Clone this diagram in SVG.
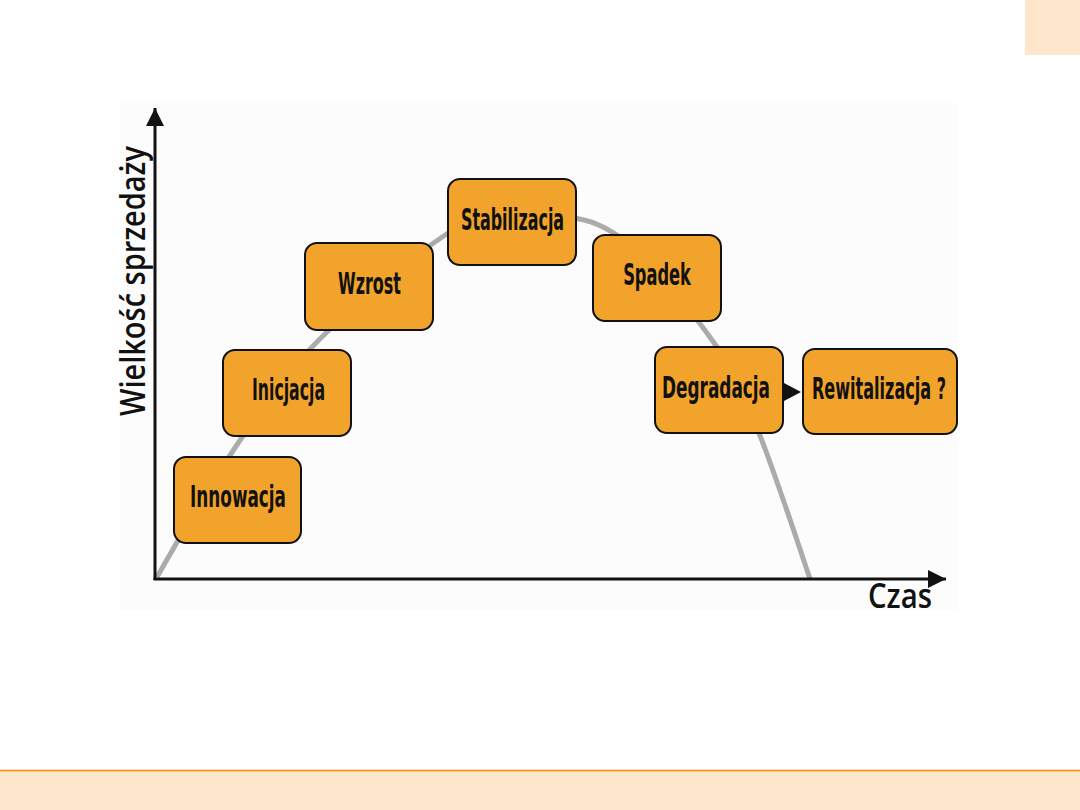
<svg xmlns="http://www.w3.org/2000/svg" width="1080" height="810" viewBox="0 0 1080 810">
<defs>
<style>
.box{fill:#f2a32b;stroke:#111;stroke-width:2}
.lbl{font-family:"Liberation Sans Narrow","DejaVu Sans Condensed","Liberation Sans",sans-serif;font-weight:bold;font-size:30px;fill:#111;text-anchor:middle}
.axis{stroke:#111;stroke-width:3;fill:none}
.axl{font-family:"Open Sans","Liberation Sans",sans-serif;font-weight:600;font-size:35px;fill:#111}
</style>
<marker id="ah" viewBox="0 0 10 10" refX="10" refY="5" markerWidth="6" markerHeight="6" markerUnits="strokeWidth" orient="auto">
<path d="M0,0 L10,5 L0,10 Z" fill="#111"/>
</marker>
</defs>
<rect x="0" y="0" width="1080" height="810" fill="#ffffff"/>
<rect x="1025" y="0" width="55" height="55" fill="#fee6cc"/>
<rect x="0" y="771" width="1080" height="39" fill="#fee6cc"/>
<line x1="0" y1="770.5" x2="1080" y2="770.5" stroke="#ff8c00" stroke-width="1.5"/>
<rect x="120" y="103" width="838" height="507" fill="#fcfcfc"/>
<g id="curve">
<path d="M157,577 C214,477 270,386 327,332 C367,294 408,260 448,233 C493,203 539,210 584,220 C628,230 673,285 717,347 C748,391 779,486 810,579" fill="none" stroke="#ababab" stroke-width="5"/>
</g>
<g id="axes">
<line class="axis" x1="155" y1="580" x2="155" y2="108" marker-end="url(#ah)"/>
<line class="axis" x1="153.5" y1="579" x2="946" y2="579" marker-end="url(#ah)"/>
<text class="axl" x="868" y="608" textLength="64" lengthAdjust="spacingAndGlyphs">Czas</text>
<text class="axl" transform="translate(145,416) rotate(-90)" x="0" y="0" textLength="270" lengthAdjust="spacingAndGlyphs">Wielkość sprzedaży</text>
</g>
<g id="innowacja">
<rect class="box" x="174" y="457" width="127" height="86" rx="12"/>
<text class="lbl" transform="translate(238,507) scale(0.67,1)" x="0" y="0" textLength="143" lengthAdjust="spacingAndGlyphs">Innowacja</text>
</g>
<g id="inicjacja">
<rect class="box" x="223" y="350" width="128" height="86" rx="12"/>
<text class="lbl" transform="translate(288.5,400) scale(0.67,1)" x="0" y="0" textLength="109" lengthAdjust="spacingAndGlyphs">Inicjacja</text>
</g>
<g id="wzrost">
<rect class="box" x="305" y="243" width="128" height="87" rx="12"/>
<text class="lbl" transform="translate(369.5,294) scale(0.67,1)" x="0" y="0" textLength="94" lengthAdjust="spacingAndGlyphs">Wzrost</text>
</g>
<g id="stabilizacja">
<rect class="box" x="448" y="179" width="128" height="86" rx="12"/>
<text class="lbl" transform="translate(512.5,230) scale(0.67,1)" x="0" y="0" textLength="154" lengthAdjust="spacingAndGlyphs">Stabilizacja</text>
</g>
<g id="spadek">
<rect class="box" x="593" y="235" width="128" height="86" rx="12"/>
<text class="lbl" transform="translate(657,285) scale(0.67,1)" x="0" y="0" textLength="101" lengthAdjust="spacingAndGlyphs">Spadek</text>
</g>
<g id="degradacja">
<rect class="box" x="655" y="347" width="128" height="86" rx="12"/>
<text class="lbl" transform="translate(716,398) scale(0.67,1)" x="0" y="0" textLength="161" lengthAdjust="spacingAndGlyphs">Degradacja</text>
</g>
<g id="rewitalizacja">
<rect class="box" x="803" y="349" width="154" height="85" rx="12"/>
<text class="lbl" transform="translate(879,399) scale(0.67,1)" x="0" y="0" textLength="200" lengthAdjust="spacingAndGlyphs">Rewitalizacja ?</text>
</g>
<g id="connectors">
<path d="M784,383 L801,392 L784,401 Z" fill="#111"/>
</g>
</svg>
